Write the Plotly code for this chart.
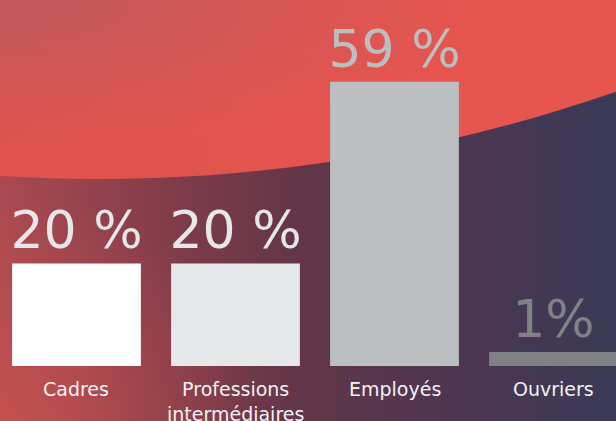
import numpy as np
import plotly.graph_objects as go

# ---- data ----
categories = ["Cadres", "Professions<br>intermédiaires", "Employés", "Ouvriers"]
values = [20, 20, 59, 1]
value_labels = ["20 %", "20 %", "59 %", "1%"]

# ---- style ----
bar_colors = ["#ffffff", "#e6e7e8", "#bcbfc1", "#7f8184"]
text_colors = ["#e6e7e8", "#e6e7e8", "#bcbec0", "#808285"]
FLOOR = 2  # minimum visible bar thickness used by the design
FONT = "DejaVu Sans"
W, H = 616, 421

fig = go.Figure()

# ---- decorative background (pixel-space axes x/y) ----
t = np.linspace(0, 2 * np.pi, 361)
# dark lower region
fig.add_trace(go.Scatter(
    x=[0, W, W, 0, 0], y=[0, 0, H, H, 0], mode="none", fill="toself",
    fillgradient=dict(type="horizontal", start=0, stop=W, colorscale=[
        [0.0, "#aa4a50"], [0.25, "#853d4a"], [0.5, "#613548"],
        [0.76, "#4c3651"], [1.0, "#3a3a57"]]),
    hoverinfo="skip", showlegend=False))
# warm glow bottom-left
fig.add_trace(go.Scatter(
    x=260 * np.cos(t), y=230 * np.sin(t), mode="none", fill="toself",
    fillgradient=dict(type="radial", colorscale=[
        [0.0, "rgba(205,82,78,0.75)"], [1.0, "rgba(205,82,78,0)"]]),
    hoverinfo="skip", showlegend=False))
# red upper arc region (large circle)
cx, cy, r = 98, H + 1403, 1582
fig.add_trace(go.Scatter(
    x=cx + r * np.cos(t), y=cy + r * np.sin(t), mode="none", fill="toself",
    fillgradient=dict(type="horizontal", start=0, stop=W, colorscale=[
        [0.0, "#e0524c"], [0.5, "#e5544e"], [1.0, "#e6564f"]]),
    hoverinfo="skip", showlegend=False))
# muted top-left vignette
fig.add_trace(go.Scatter(
    x=480 * np.cos(t), y=H + 150 * np.sin(t), mode="none", fill="toself",
    fillgradient=dict(type="radial", colorscale=[
        [0.0, "rgba(180,92,100,0.7)"], [1.0, "rgba(180,92,100,0)"]]),
    hoverinfo="skip", showlegend=False))

# ---- bars (data axes x2/y2) ----
fig.add_trace(go.Bar(
    x=categories, y=[v + FLOOR for v in values], base=-FLOOR,
    width=0.81, marker=dict(color=bar_colors, line=dict(width=0)),
    text=value_labels, textposition="outside", constraintext="none",
    textfont=dict(family=FONT, size=52, color=text_colors),
    cliponaxis=False, hoverinfo="skip", showlegend=False,
    xaxis="x2", yaxis="y2"))

for c in categories:
    fig.add_annotation(
        x=c, y=-FLOOR, xref="x2", yref="y2", text=c, showarrow=False,
        yanchor="top", yshift=-10,
        font=dict(family=FONT, size=19, color="#f2f2f2"))

fig.update_layout(
    width=W, height=H, margin=dict(l=0, r=0, t=0, b=0),
    paper_bgcolor="#5f3448", plot_bgcolor="rgba(0,0,0,0)",
    showlegend=False,
    xaxis=dict(range=[0, W], visible=False, fixedrange=True),
    yaxis=dict(range=[0, H], visible=False, fixedrange=True),
    xaxis2=dict(overlaying="x", type="category", range=[-0.481, 3.393],
                visible=False, fixedrange=True),
    yaxis2=dict(overlaying="y", range=[-13.8, 76.54], visible=False,
                fixedrange=True),
)

fig.write_html("out.html", config={"displayModeBar": False},
               post_script="document.body.style.margin='0';"
                           "document.body.style.overflow='hidden';")
